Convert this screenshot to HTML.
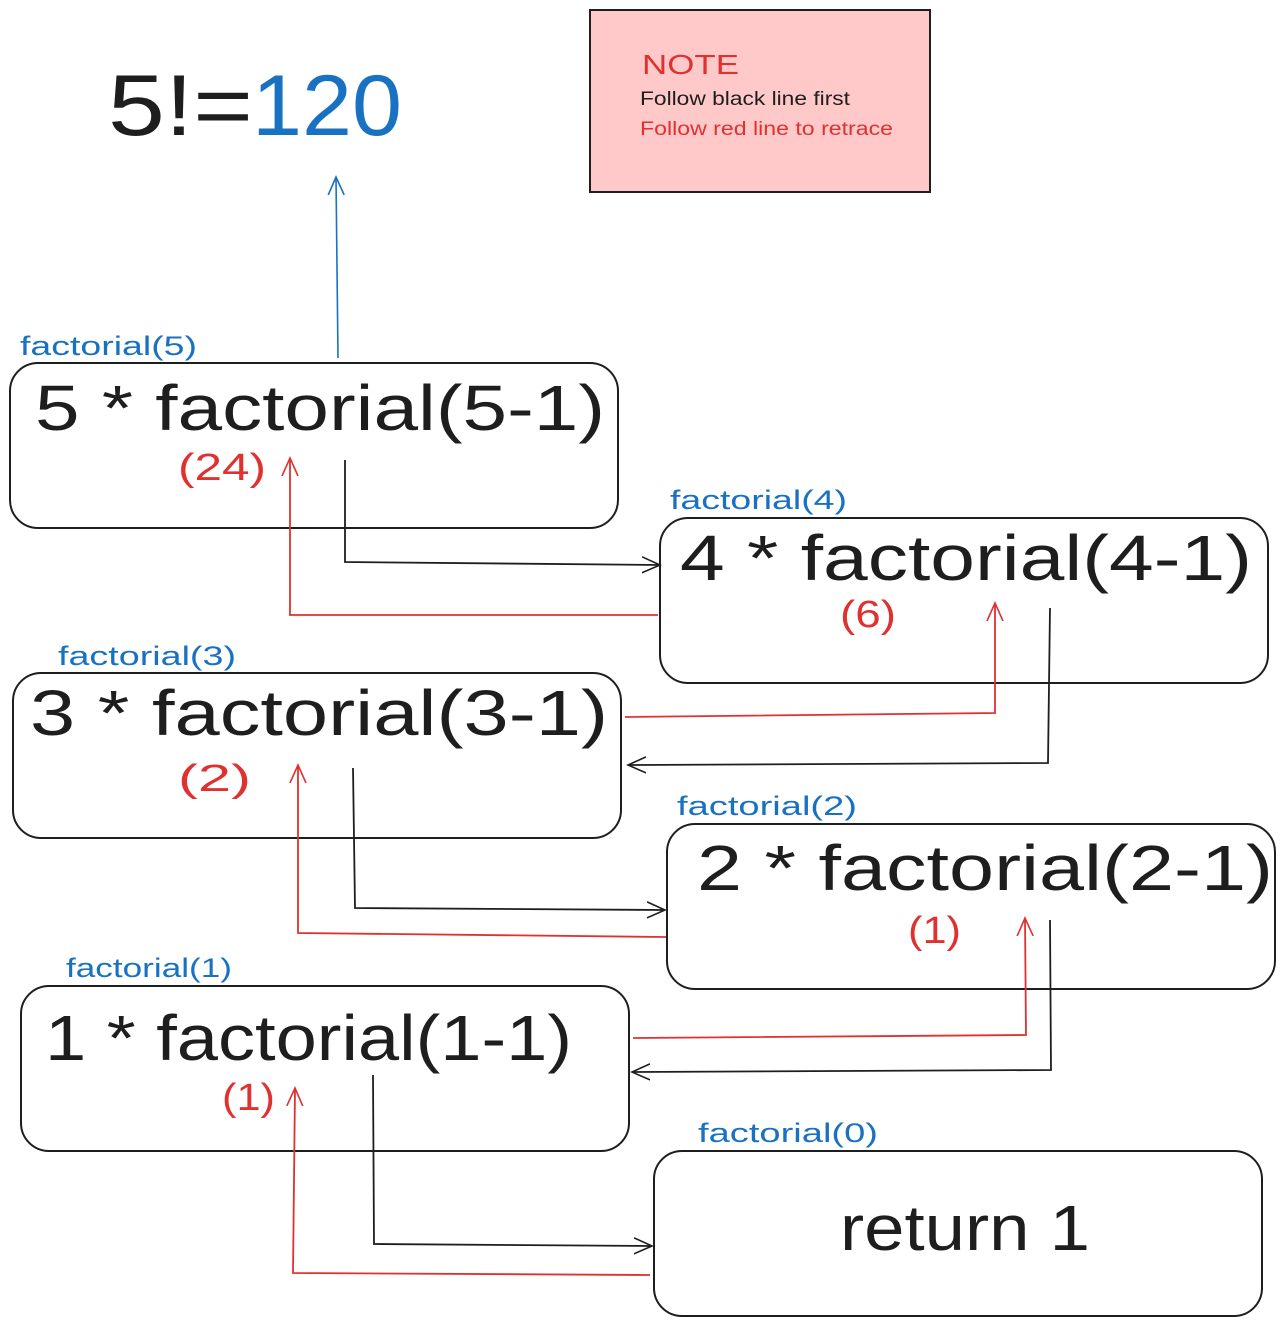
<!DOCTYPE html>
<html><head><meta charset="utf-8"><style>
html,body{margin:0;padding:0;background:#fff;}
svg{display:block;}
text{font-family:"Liberation Sans",sans-serif;}
</style></head><body>
<svg width="1286" height="1326" viewBox="0 0 1286 1326" xmlns="http://www.w3.org/2000/svg">
<defs>
<marker id="ab" viewBox="0 0 20 20" refX="18" refY="10" markerWidth="20" markerHeight="20" markerUnits="userSpaceOnUse" orient="auto"><path d="M0,2 L18,10 L0,18" fill="none" stroke="#1e1e1e" stroke-width="1.6"/></marker>
<marker id="ar" viewBox="0 0 20 20" refX="18" refY="10" markerWidth="20" markerHeight="20" markerUnits="userSpaceOnUse" orient="auto"><path d="M0,2 L18,10 L0,18" fill="none" stroke="#e03131" stroke-width="1.6"/></marker>
<marker id="au" viewBox="0 0 20 20" refX="18" refY="10" markerWidth="20" markerHeight="20" markerUnits="userSpaceOnUse" orient="auto"><path d="M0,2 L18,10 L0,18" fill="none" stroke="#1971c2" stroke-width="1.6"/></marker>
</defs>

<text x="108" y="135" font-size="86" fill="#1e1e1e" textLength="145" lengthAdjust="spacingAndGlyphs">5!=</text>
<text x="252" y="135" font-size="86" fill="#1971c2" textLength="150" lengthAdjust="spacingAndGlyphs">120</text>

<rect x="590" y="10" width="340" height="182" fill="#ffc9c9" stroke="#1e1e1e" stroke-width="2"/>
<text x="642" y="74" font-size="28" fill="#e03131" textLength="97" lengthAdjust="spacingAndGlyphs">NOTE</text>
<text x="640" y="105" font-size="19" fill="#1e1e1e" textLength="210" lengthAdjust="spacingAndGlyphs">Follow black line first</text>
<text x="640" y="135" font-size="19" fill="#e03131" textLength="253" lengthAdjust="spacingAndGlyphs">Follow red line to retrace</text>

<line x1="338" y1="358" x2="336" y2="177" stroke="#1971c2" stroke-width="1.6" marker-end="url(#au)"/>

<g fill="none" stroke="#1e1e1e" stroke-width="2">
<rect x="10" y="363" width="608" height="165" rx="28"/>
<rect x="660" y="518" width="608" height="165" rx="28"/>
<rect x="13" y="673" width="608" height="165" rx="28"/>
<rect x="667" y="824" width="608" height="165" rx="28"/>
<rect x="21" y="986" width="608" height="165" rx="28"/>
<rect x="654" y="1151" width="608" height="165" rx="28"/>
</g>

<g fill="#1971c2" font-size="27">
<text x="20" y="355" textLength="177" lengthAdjust="spacingAndGlyphs">factorial(5)</text>
<text x="670" y="509" textLength="177" lengthAdjust="spacingAndGlyphs">factorial(4)</text>
<text x="58" y="665" textLength="178" lengthAdjust="spacingAndGlyphs">factorial(3)</text>
<text x="677" y="815" textLength="180" lengthAdjust="spacingAndGlyphs">factorial(2)</text>
<text x="66" y="977" textLength="166" lengthAdjust="spacingAndGlyphs">factorial(1)</text>
<text x="698" y="1142" textLength="180" lengthAdjust="spacingAndGlyphs">factorial(0)</text>
</g>

<g fill="#1e1e1e" font-size="64">
<text x="35" y="430" textLength="570" lengthAdjust="spacingAndGlyphs">5 * factorial(5-1)</text>
<text x="680" y="580" textLength="572" lengthAdjust="spacingAndGlyphs">4 * factorial(4-1)</text>
<text x="30" y="735" textLength="578" lengthAdjust="spacingAndGlyphs">3 * factorial(3-1)</text>
<text x="697" y="890" textLength="576" lengthAdjust="spacingAndGlyphs">2 * factorial(2-1)</text>
<text x="45" y="1060" textLength="527" lengthAdjust="spacingAndGlyphs">1 * factorial(1-1)</text>
<text x="840" y="1250" textLength="250" lengthAdjust="spacingAndGlyphs">return 1</text>
</g>

<g fill="#e03131" font-size="38">
<text x="178" y="480" textLength="88" lengthAdjust="spacingAndGlyphs">(24)</text>
<text x="840" y="627" textLength="56" lengthAdjust="spacingAndGlyphs">(6)</text>
<text x="178" y="791" textLength="73" lengthAdjust="spacingAndGlyphs">(2)</text>
<text x="908" y="943" textLength="53" lengthAdjust="spacingAndGlyphs">(1)</text>
<text x="222" y="1110" textLength="53" lengthAdjust="spacingAndGlyphs">(1)</text>
</g>

<g fill="none" stroke-width="1.8">
<polyline points="345,460 345,562 660,565" stroke="#1e1e1e" marker-end="url(#ab)"/>
<polyline points="658,615 290,615 290,458" stroke="#e03131" marker-end="url(#ar)"/>
<polyline points="1050,608 1048,763 628,765" stroke="#1e1e1e" marker-end="url(#ab)"/>
<polyline points="625,717 995,713 995,603" stroke="#e03131" marker-end="url(#ar)"/>
<polyline points="353,768 355,908 665,910" stroke="#1e1e1e" marker-end="url(#ab)"/>
<polyline points="666,937 298,933 298,765" stroke="#e03131" marker-end="url(#ar)"/>
<polyline points="1050,920 1051,1070 632,1072" stroke="#1e1e1e" marker-end="url(#ab)"/>
<polyline points="633,1038 1026,1035 1025,918" stroke="#e03131" marker-end="url(#ar)"/>
<polyline points="373,1075 374,1244 652,1246" stroke="#1e1e1e" marker-end="url(#ab)"/>
<polyline points="650,1275 293,1273 295,1088" stroke="#e03131" marker-end="url(#ar)"/>
</g>
</svg>
</body></html>
